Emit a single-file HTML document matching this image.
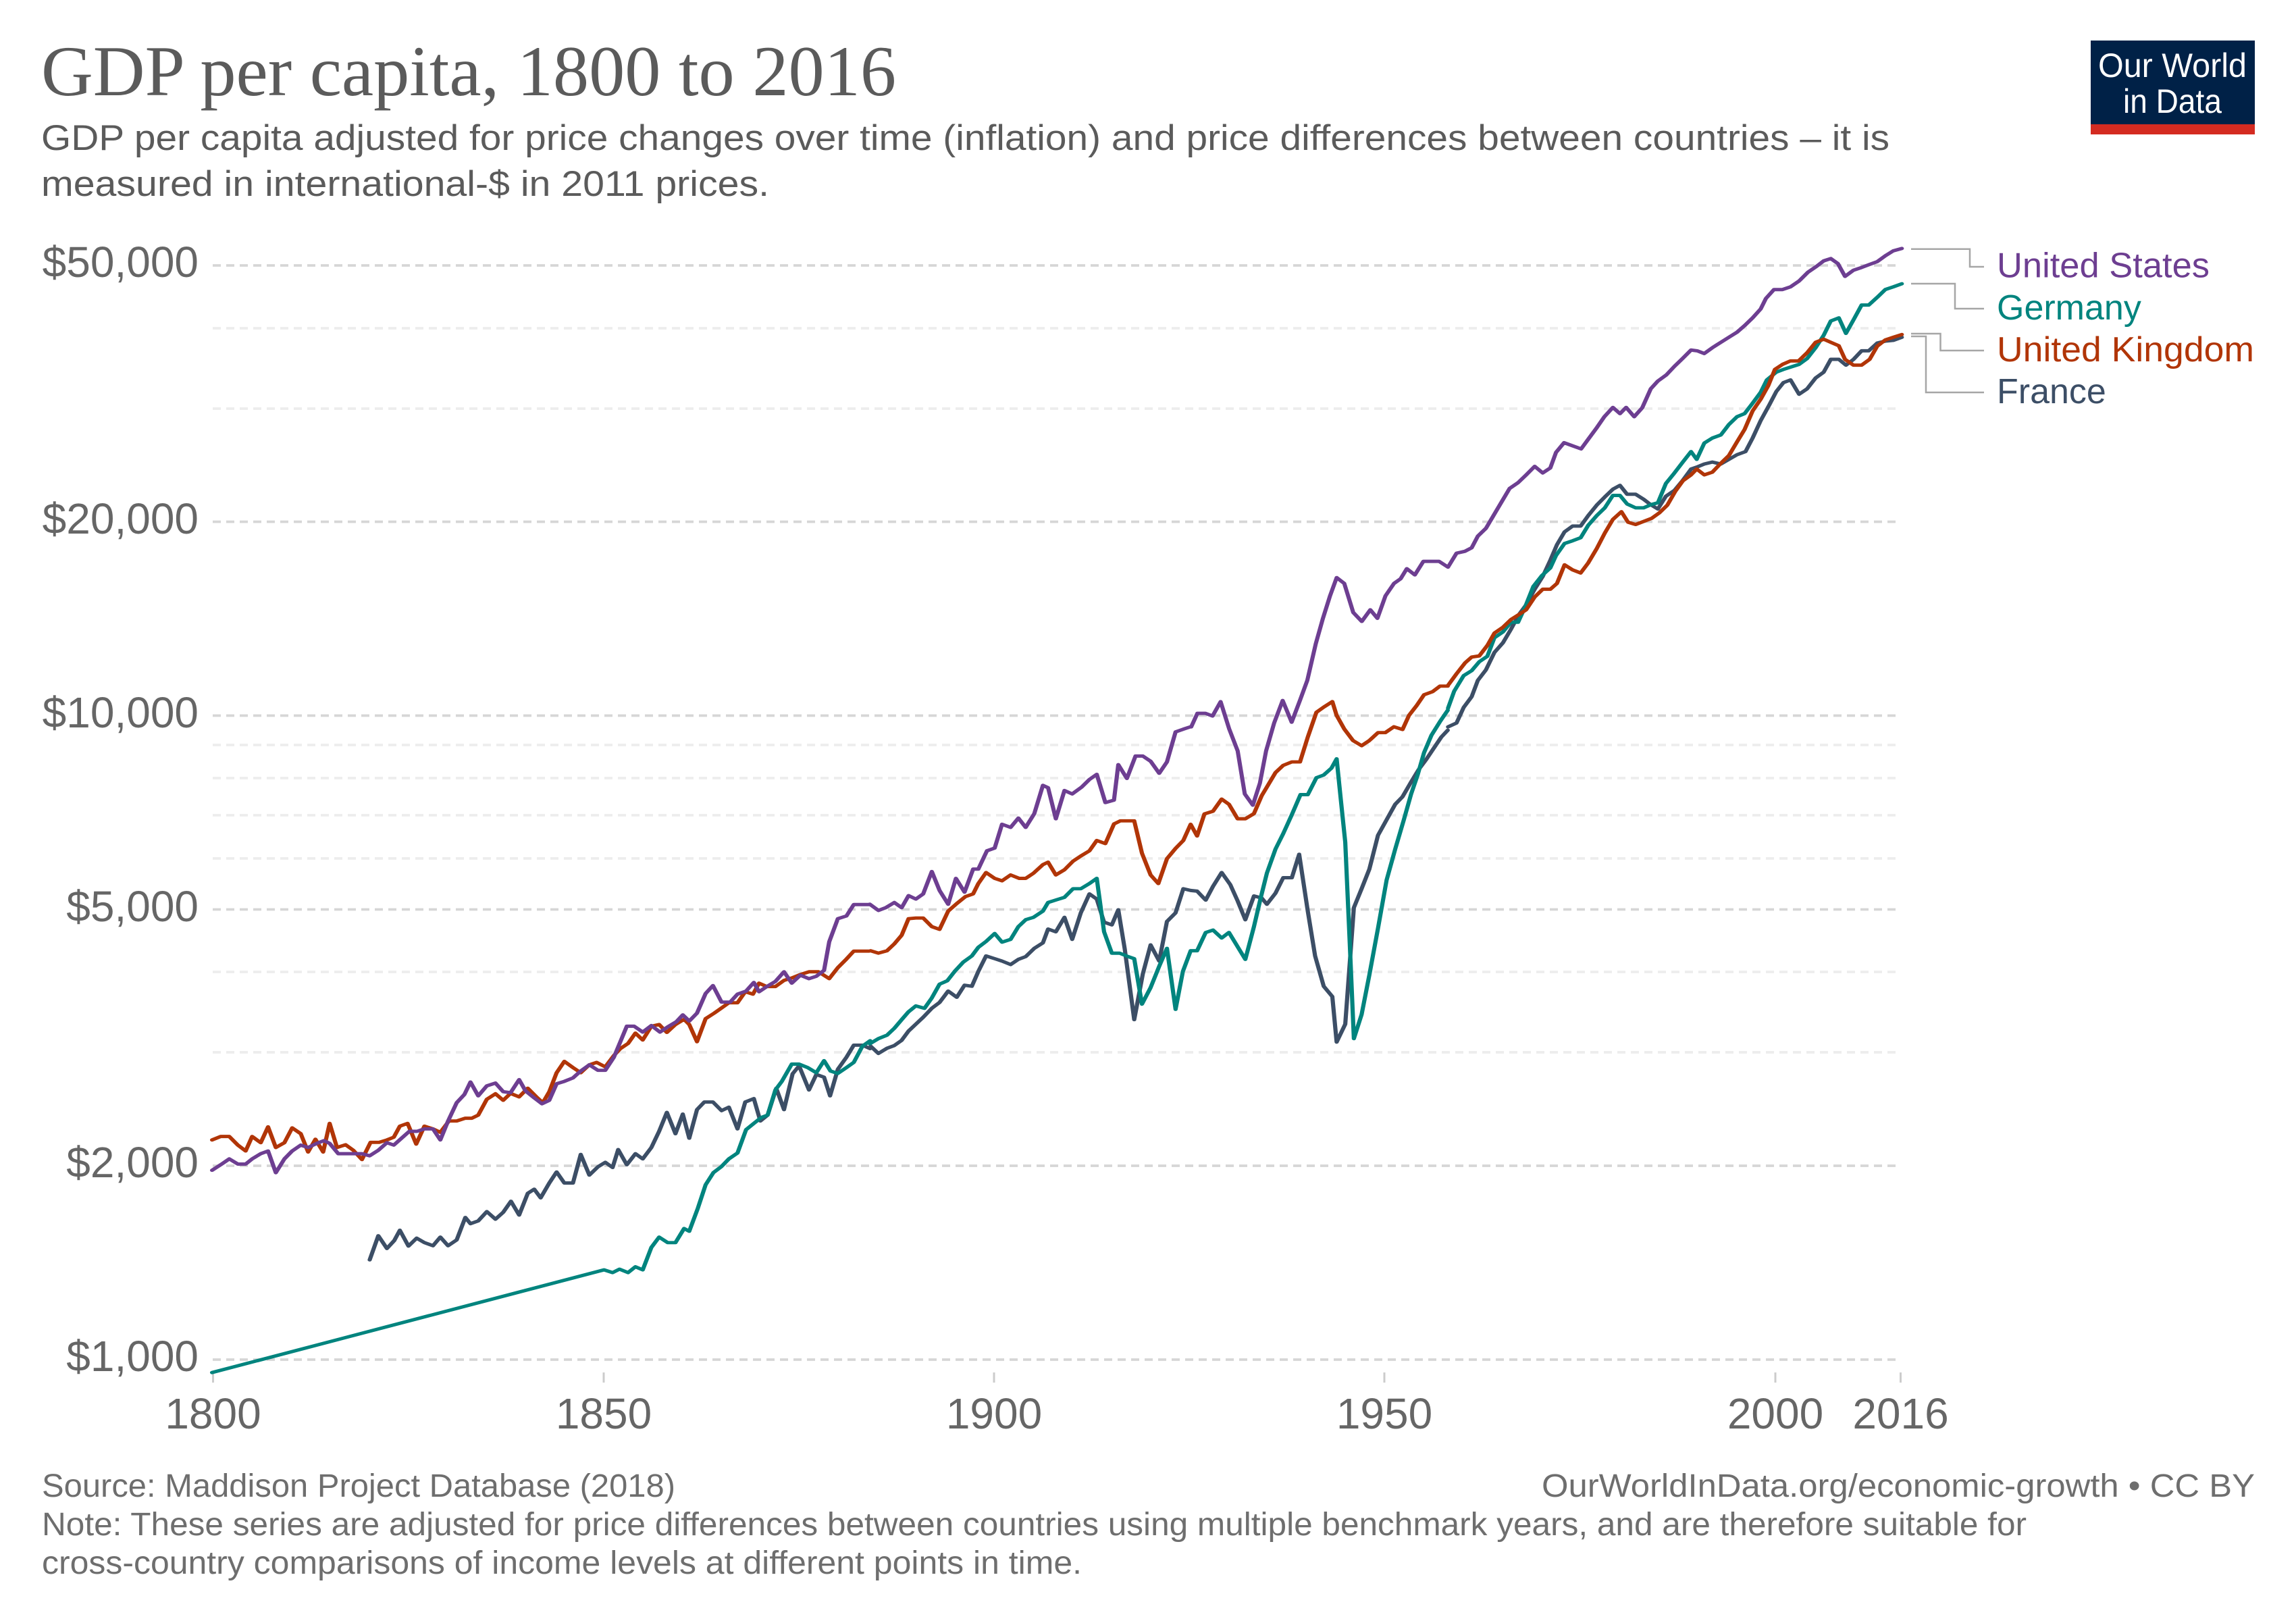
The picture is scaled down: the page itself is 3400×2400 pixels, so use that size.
<!DOCTYPE html>
<html>
<head>
<meta charset="utf-8">
<style>
  html, body { margin: 0; padding: 0; background: #ffffff; }
  svg { display: block; }
  .sans { font-family: "Liberation Sans", "DejaVu Sans", sans-serif; }
  .serif { font-family: "Liberation Serif", "DejaVu Serif", serif; }
</style>
</head>
<body>
<svg xmlns="http://www.w3.org/2000/svg" width="3400" height="2400" viewBox="0 0 3400 2400">
  <rect x="0" y="0" width="3400" height="2400" fill="#ffffff"/>

  <!-- Title -->
  <text class="serif" x="61" y="141" font-size="106" fill="#5b5b5b" textLength="1266" lengthAdjust="spacingAndGlyphs">GDP per capita, 1800 to 2016</text>

  <!-- Subtitle -->
  <text class="sans" x="61" y="222" font-size="53" fill="#5b5b5b" textLength="2737" lengthAdjust="spacingAndGlyphs">GDP per capita adjusted for price changes over time (inflation) and price differences between countries – it is</text>
  <text class="sans" x="61" y="290" font-size="53" fill="#5b5b5b" textLength="1078" lengthAdjust="spacingAndGlyphs">measured in international-$ in 2011 prices.</text>

  <!-- Logo -->
  <rect x="3096" y="60" width="243" height="124" fill="#002147"/>
  <rect x="3096" y="184" width="243" height="15" fill="#d42b21"/>
  <text class="sans" x="3107" y="114" font-size="50" fill="#ffffff" textLength="220" lengthAdjust="spacingAndGlyphs">Our World</text>
  <text class="sans" x="3144" y="167" font-size="50" fill="#ffffff" textLength="146" lengthAdjust="spacingAndGlyphs">in Data</text>

  <!-- Minor gridlines -->
  <g stroke="#ededed" stroke-width="3.8" stroke-dasharray="12,8" fill="none">
    <line x1="315" y1="1558" x2="2808" y2="1558"/>
    <line x1="315" y1="1439" x2="2808" y2="1439"/>
    <line x1="315" y1="1271" x2="2808" y2="1271"/>
    <line x1="315" y1="1207" x2="2808" y2="1207"/>
    <line x1="315" y1="1152" x2="2808" y2="1152"/>
    <line x1="315" y1="1103" x2="2808" y2="1103"/>
    <line x1="315" y1="605" x2="2808" y2="605"/>
    <line x1="315" y1="486" x2="2808" y2="486"/>
  </g>
  <!-- Major gridlines -->
  <g stroke="#d6d6d6" stroke-width="3.8" stroke-dasharray="12,8" fill="none">
    <line x1="315" y1="2013" x2="2808" y2="2013"/>
    <line x1="315" y1="1726" x2="2808" y2="1726"/>
    <line x1="315" y1="1346.5" x2="2808" y2="1346.5"/>
    <line x1="315" y1="1059.5" x2="2808" y2="1059.5"/>
    <line x1="315" y1="772.5" x2="2808" y2="772.5"/>
    <line x1="315" y1="393" x2="2808" y2="393"/>
  </g>

  <!-- Y axis labels -->
  <g class="sans" font-size="64" fill="#666666" text-anchor="end">
    <text x="294" y="410">$50,000</text>
    <text x="294" y="790">$20,000</text>
    <text x="294" y="1077">$10,000</text>
    <text x="294" y="1364">$5,000</text>
    <text x="294" y="1743">$2,000</text>
    <text x="294" y="2030">$1,000</text>
  </g>

  <!-- X axis ticks -->
  <g stroke="#cccccc" stroke-width="3">
    <line x1="315.5" y1="2032" x2="315.5" y2="2047"/>
    <line x1="894" y1="2032" x2="894" y2="2047"/>
    <line x1="1472" y1="2032" x2="1472" y2="2047"/>
    <line x1="2050" y1="2032" x2="2050" y2="2047"/>
    <line x1="2629" y1="2032" x2="2629" y2="2047"/>
    <line x1="2814.5" y1="2032" x2="2814.5" y2="2047"/>
  </g>
  <!-- X axis labels -->
  <g class="sans" font-size="64" fill="#666666" text-anchor="middle">
    <text x="315.5" y="2115">1800</text>
    <text x="894" y="2115">1850</text>
    <text x="1472" y="2115">1900</text>
    <text x="2050" y="2115">1950</text>
    <text x="2629" y="2115">2000</text>
    <text x="2814.5" y="2115">2016</text>
  </g>

  <!-- ===== SERIES ===== -->
  <g fill="none" stroke-linejoin="round" stroke-linecap="round">

    <!-- France -->
    <g stroke="#3c4e66">
      <g transform="translate(300,1300) scale(0.63776,0.5102)" stroke-width="9.7">
        <polyline points="388,1108 408,1038 428,1075 445,1052 458,1022 478,1068 497,1045 515,1058 535,1067 552,1042 570,1067 590,1050 610,985 622,1003 640,995 660,968 680,990 698,970 716,938 735,978 755,915 770,903 785,928 805,885 822,853 840,885 860,885 878,802 898,862 918,838 935,825 952,840 965,788 985,832 1005,800 1022,815 1042,782 1060,735 1078,680 1098,742 1115,685 1130,755 1148,672 1165,650 1185,650 1205,675 1222,665 1242,728 1260,650 1280,640 1295,705 1312,688 1332,610 1350,672 1370,568 1385,545 1408,615 1425,570 1443,578 1457,632 1475,555 1495,520 1512,485 1532,485 1550,495"/>
      </g>
      <g transform="translate(1200,900) scale(0.63776,0.5102)" stroke-width="9.7">
        <polyline points="140,1272 158,1293 178,1278 195,1270 212,1255 228,1228 245,1208 262,1188 282,1162 300,1145 320,1112 340,1130 358,1095 375,1098 390,1055 408,1010 428,1018 445,1025 465,1035 483,1020 500,1012 520,988 540,972 552,932 570,940 590,898 608,962 628,885 648,830 665,845 682,912 700,920 715,876 730,990 752,1195 772,1062 790,978 810,1025 828,910 848,885 866,815 883,820 898,822 918,848 935,808 955,768 975,803 992,850 1010,905 1030,836 1048,842 1060,860 1080,828 1098,783 1118,783 1135,715 1155,880 1172,1010 1192,1098 1212,1128 1222,1260 1242,1208 1262,870 1280,815 1298,758 1318,660 1338,615 1358,570 1375,548 1395,505 1412,470 1430,440 1445,412 1465,375 1480,355"/>
      </g>
      <g transform="translate(1750,330) scale(0.70153,0.57398)" stroke-width="8.7">
        <polyline points="562,1300 580,1290 595,1250 612,1222 625,1180 642,1153 660,1108 678,1083 695,1048 712,1010 727,985 745,945 762,912 778,870 792,830 808,797 825,782 842,782 858,755 876,728 893,707 910,687 925,677 940,700 958,700 975,713 990,727 1005,738 1022,705 1040,690 1057,665 1075,635 1087,630 1103,622 1120,617 1138,622 1155,610 1172,598 1190,590 1205,555 1222,510 1240,470 1255,435 1270,412 1285,405 1303,442 1320,428 1338,400 1355,385 1370,352 1387,352 1402,367 1418,352 1435,330 1450,330 1468,310 1485,305 1502,303 1520,295"/>
      </g>
    </g>

    <!-- Germany -->
    <g stroke="#00847e">
      <g transform="translate(300,1300) scale(0.63776,0.5102)" stroke-width="9.7">
        <polyline points="22,1435 932,1137 952,1145 968,1135 988,1145 1005,1128 1022,1137 1042,1072 1060,1042 1080,1058 1098,1058 1118,1017 1130,1025 1150,958 1168,890 1186,855 1205,837 1222,815 1242,798 1262,730 1280,712 1297,695 1312,688 1330,615 1345,590 1368,540 1385,540 1405,550 1425,565 1443,530 1458,560 1475,567 1495,550 1512,535 1532,488 1550,472"/>
      </g>
      <g transform="translate(1200,900) scale(0.63776,0.5102)" stroke-width="9.7">
        <polyline points="138,1265 158,1250 178,1240 195,1220 212,1195 228,1172 245,1155 265,1162 282,1132 300,1092 318,1082 335,1055 355,1028 375,1010 390,985 408,968 428,945 445,970 465,962 483,925 500,905 518,898 540,880 552,855 572,847 590,840 610,815 628,815 648,800 665,785 682,940 700,1002 718,1002 738,1012 752,1018 770,1150 790,1102 810,1040 828,988 848,1165 865,1055 883,995 898,995 918,942 935,935 955,958 972,942 992,983 1010,1020 1030,925 1045,845 1060,770 1080,700 1098,655 1118,600 1138,542 1155,542 1175,493 1192,485 1210,465 1222,438 1232,560 1242,680 1252,960 1262,1250 1280,1180 1298,1065 1318,930 1338,790 1358,700 1378,615 1395,540 1410,485 1425,420 1442,370 1462,330 1480,297"/>
      </g>
      <g transform="translate(1750,330) scale(0.70153,0.57398)" stroke-width="8.7">
        <polyline points="562,1252 575,1208 595,1168 612,1155 628,1132 645,1118 660,1070 678,1055 695,1030 710,1030 725,990 742,938 760,910 778,890 790,858 808,827 825,820 842,812 858,780 876,755 893,735 910,703 925,703 940,725 958,735 975,735 990,727 1005,722 1022,672 1040,645 1057,618 1075,590 1087,610 1103,568 1120,555 1138,547 1155,520 1172,500 1188,492 1205,465 1222,437 1235,405 1255,385 1270,378 1285,372 1303,365 1320,350 1338,322 1355,290 1370,253 1387,245 1402,285 1418,250 1435,212 1450,212 1468,192 1485,172 1502,165 1520,157"/>
      </g>
    </g>

    <!-- United Kingdom -->
    <g stroke="#b13507">
      <g transform="translate(300,1300) scale(0.63776,0.5102)" stroke-width="9.7">
        <polyline points="22,760 42,750 62,750 82,775 100,792 115,750 135,768 152,722 170,782 190,768 208,725 228,742 245,795 262,758 280,795 295,712 312,782 332,774 350,790 370,817 390,767 410,767 428,760 444,752 458,720 476,712 496,772 515,720 535,728 552,738 572,705 590,705 610,697 625,697 640,688 660,642 680,626 698,645 715,625 735,635 755,610 775,635 790,652 805,620 822,565 840,532 860,550 878,565 898,542 915,535 935,548 955,515 970,495 988,480 1005,450 1022,470 1042,430 1060,425 1078,448 1098,425 1118,410 1130,425 1148,475 1168,408 1188,392 1205,377 1222,362 1242,362 1260,330 1278,337 1292,305 1310,315 1330,315 1350,297 1368,290 1388,280 1408,272 1430,272 1455,292 1475,260 1495,235 1512,212 1548,212"/>
      </g>
      <g transform="translate(1200,900) scale(0.63776,0.5102)" stroke-width="9.7">
        <polyline points="140,995 158,1002 178,995 195,975 212,950 228,902 245,900 262,900 282,925 300,933 320,880 340,858 360,838 378,830 390,800 408,768 428,785 445,792 465,775 485,785 500,785 518,770 540,745 552,738 570,775 590,760 610,735 628,720 648,705 665,675 685,684 705,627 720,618 752,618 770,712 790,775 808,800 828,728 848,698 866,675 883,628 898,662 915,598 935,590 955,555 972,570 992,612 1010,612 1030,597 1048,545 1060,520 1080,478 1098,457 1118,447 1137,447 1155,375 1175,303 1192,288 1212,272 1222,312 1240,352 1260,385 1280,400 1298,385 1318,362 1335,362 1355,345 1375,353 1390,312 1408,283 1425,252 1445,243 1462,227 1480,227"/>
      </g>
      <g transform="translate(1750,330) scale(0.70153,0.57398)" stroke-width="8.7">
        <polyline points="562,1193 580,1163 598,1135 612,1120 628,1117 645,1090 660,1058 678,1043 695,1023 712,1010 727,998 745,965 762,945 778,945 792,930 808,882 825,895 842,903 858,877 876,840 893,800 910,765 928,745 942,772 958,778 975,770 992,762 1008,748 1025,728 1042,692 1058,665 1075,650 1087,635 1103,650 1120,643 1138,620 1155,600 1172,565 1188,533 1205,485 1222,455 1238,420 1252,378 1268,365 1285,356 1302,356 1320,335 1338,308 1355,300 1370,308 1387,317 1400,352 1418,367 1435,367 1452,352 1468,318 1485,302 1502,295 1520,288"/>
      </g>
    </g>

    <!-- United States -->
    <g stroke="#6d3e91">
      <g transform="translate(300,1300) scale(0.63776,0.5102)" stroke-width="9.7">
        <polyline points="22,848 42,832 62,815 82,830 100,830 115,815 135,800 152,792 170,855 190,815 208,792 228,775 245,782 265,770 282,762 295,770 315,800 340,800 370,800 388,806 408,790 428,768 444,775 462,755 480,735 498,735 515,728 535,728 552,760 570,705 590,652 608,628 622,592 640,632 660,603 680,595 698,620 715,623 735,585 750,618 770,638 788,655 805,645 822,597 840,590 860,580 878,560 898,542 918,558 935,558 955,520 970,475 985,430 1002,430 1022,447 1042,428 1062,447 1080,432 1100,417 1115,397 1130,415 1148,392 1168,335 1185,312 1205,360 1225,360 1242,337 1262,328 1280,303 1292,330 1310,315 1330,300 1350,272 1368,305 1388,282 1408,292 1425,285 1443,268 1455,185 1475,118 1495,110 1512,77 1548,77"/>
      </g>
      <g transform="translate(1200,900) scale(0.63776,0.5102)" stroke-width="9.7">
        <polyline points="138,860 158,878 175,870 195,855 212,870 228,835 245,845 262,830 282,765 300,820 320,860 338,785 358,825 378,758 390,758 410,705 428,697 445,628 465,637 483,610 500,637 520,597 540,515 552,522 570,612 590,530 608,540 630,520 648,498 665,483 685,565 705,558 715,455 735,495 755,430 772,430 790,445 810,480 828,447 848,360 866,352 883,345"/>
      </g>
      <g transform="translate(1750,330) scale(0.70153,0.57398)" stroke-width="8.7">
        <polyline points="20,1300 33,1265 50,1265 65,1272 82,1235 100,1305 118,1362 133,1473 150,1502 165,1445 178,1362 195,1290 213,1232 232,1288 250,1230 265,1180 283,1085 298,1020 313,962 327,915 343,930 362,1005 380,1028 398,998 413,1020 430,962 448,930 462,918 475,892 492,908 510,873 543,873 562,888 580,852 598,847 612,838 625,808 642,788 658,755 675,720 692,685 710,670 727,650 745,628 762,645 778,632 790,592 807,567 825,575 843,583 858,558 875,530 892,500 910,476 925,492 938,476 955,500 972,477 990,428 1005,408 1023,392 1040,370 1057,350 1075,328 1088,330 1103,337 1120,322 1138,308 1155,295 1172,282 1188,265 1205,245 1222,222 1233,195 1250,172 1268,172 1285,165 1303,150 1322,127 1340,112 1355,98 1370,92 1385,105 1400,138 1418,122 1435,115 1450,108 1468,100 1485,85 1502,72 1520,66"/>
      </g>
    </g>
  </g>

  <!-- Legend connectors -->
  <g stroke="#a6a6a6" stroke-width="2.5" fill="none">
    <path d="M2830 368.7 H2917 V395 H2938"/>
    <path d="M2830 420 H2895 V457 H2938"/>
    <path d="M2830 494 H2873.5 V519 H2938"/>
    <path d="M2830 498 H2852 V581 H2938"/>
  </g>

  <!-- Legend labels -->
  <g class="sans" font-size="52">
    <text x="2957" y="410.7" fill="#6d3e91" textLength="315" lengthAdjust="spacingAndGlyphs">United States</text>
    <text x="2957" y="473" fill="#00847e">Germany</text>
    <text x="2957" y="535" fill="#b13507" textLength="381" lengthAdjust="spacingAndGlyphs">United Kingdom</text>
    <text x="2957" y="597" fill="#3c4e66">France</text>
  </g>

  <!-- Footer -->
  <g class="sans" font-size="48" fill="#6e6e6e">
    <text x="62" y="2216" textLength="938" lengthAdjust="spacingAndGlyphs">Source: Maddison Project Database (2018)</text>
    <text x="2283" y="2216" textLength="1056" lengthAdjust="spacingAndGlyphs">OurWorldInData.org/economic-growth • CC BY</text>
    <text x="62" y="2273" textLength="2939" lengthAdjust="spacingAndGlyphs">Note: These series are adjusted for price differences between countries using multiple benchmark years, and are therefore suitable for</text>
    <text x="62" y="2330" textLength="1540" lengthAdjust="spacingAndGlyphs">cross-country comparisons of income levels at different points in time.</text>
  </g>
</svg>
</body>
</html>
